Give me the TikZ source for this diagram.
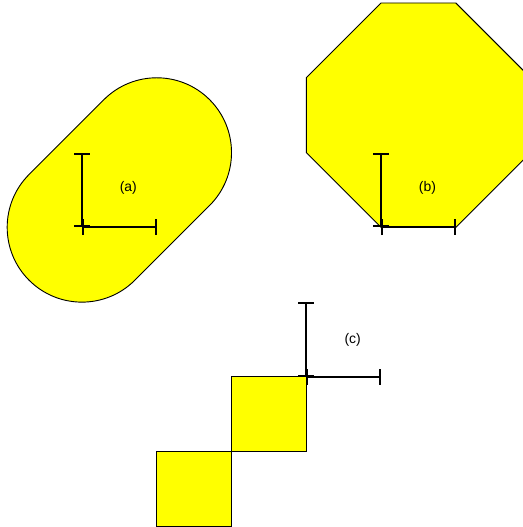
\documentclass[tikz,border=0pt]{standalone}
\usepackage{fontspec}
\setmainfont{Liberation Sans}
\usetikzlibrary{arrows.meta}
\definecolor{shapeyellow}{RGB}{255,255,0}
\tikzset{
  shapefill/.style={fill=shapeyellow,draw=black,line width=0.35pt},
  axis/.style={line width=0.75pt,{Bar[width=6pt]}-{Bar[width=6pt]}},
  lab/.style={font=\fontsize{5.3}{6.5}\selectfont,inner sep=0pt}
}
\begin{document}
\begin{tikzpicture}
\useasboundingbox (-1.096,-4.007) rectangle (5.896,3.04);
\clip (-1.096,-4.007) rectangle (5.896,3.04);
% (a) capsule
\begin{scope}
  \path[shapefill] (0.7071,-0.7071) -- (1.7071,0.2929) arc[start angle=-45,end angle=135,radius=1]
    -- (-0.7071,0.7071) arc[start angle=135,end angle=315,radius=1] -- cycle;
  \coordinate (oa) at (0,0);
  \coordinate (ya) at (0,1);
  \coordinate (xa) at (1,0);
  \draw[axis] (oa) -- (ya);
  \draw[axis] (oa) -- (xa);
  \node[lab] (la) at (0.62,0.53) {(a)};
\end{scope}
% (b) octagon
\begin{scope}[shift={(4,0)}]
  \path[shapefill] (0,0) -- (1,0) -- (2,1) -- (2,2) -- (1,3) -- (0,3) -- (-1,2) -- (-1,1) -- cycle;
  \coordinate (ob) at (0,0);
  \coordinate (yb) at (0,1);
  \coordinate (xb) at (1,0);
  \draw[axis] (ob) -- (yb);
  \draw[axis] (ob) -- (xb);
  \node[lab] (lb) at (0.62,0.53) {(b)};
\end{scope}
% (c) squares
\begin{scope}[shift={(3,-2)}]
  \path[shapefill] (-1,-1) rectangle (0,0);
  \path[shapefill] (-2,-2) rectangle (-1,-1);
  \coordinate (oc) at (0,0);
  \coordinate (yc) at (0,1);
  \coordinate (xc) at (1,0);
  \draw[axis] (oc) -- (yc);
  \draw[axis] (oc) -- (xc);
  \node[lab] (lc) at (0.62,0.5) {(c)};
\end{scope}
\end{tikzpicture}
\end{document}
